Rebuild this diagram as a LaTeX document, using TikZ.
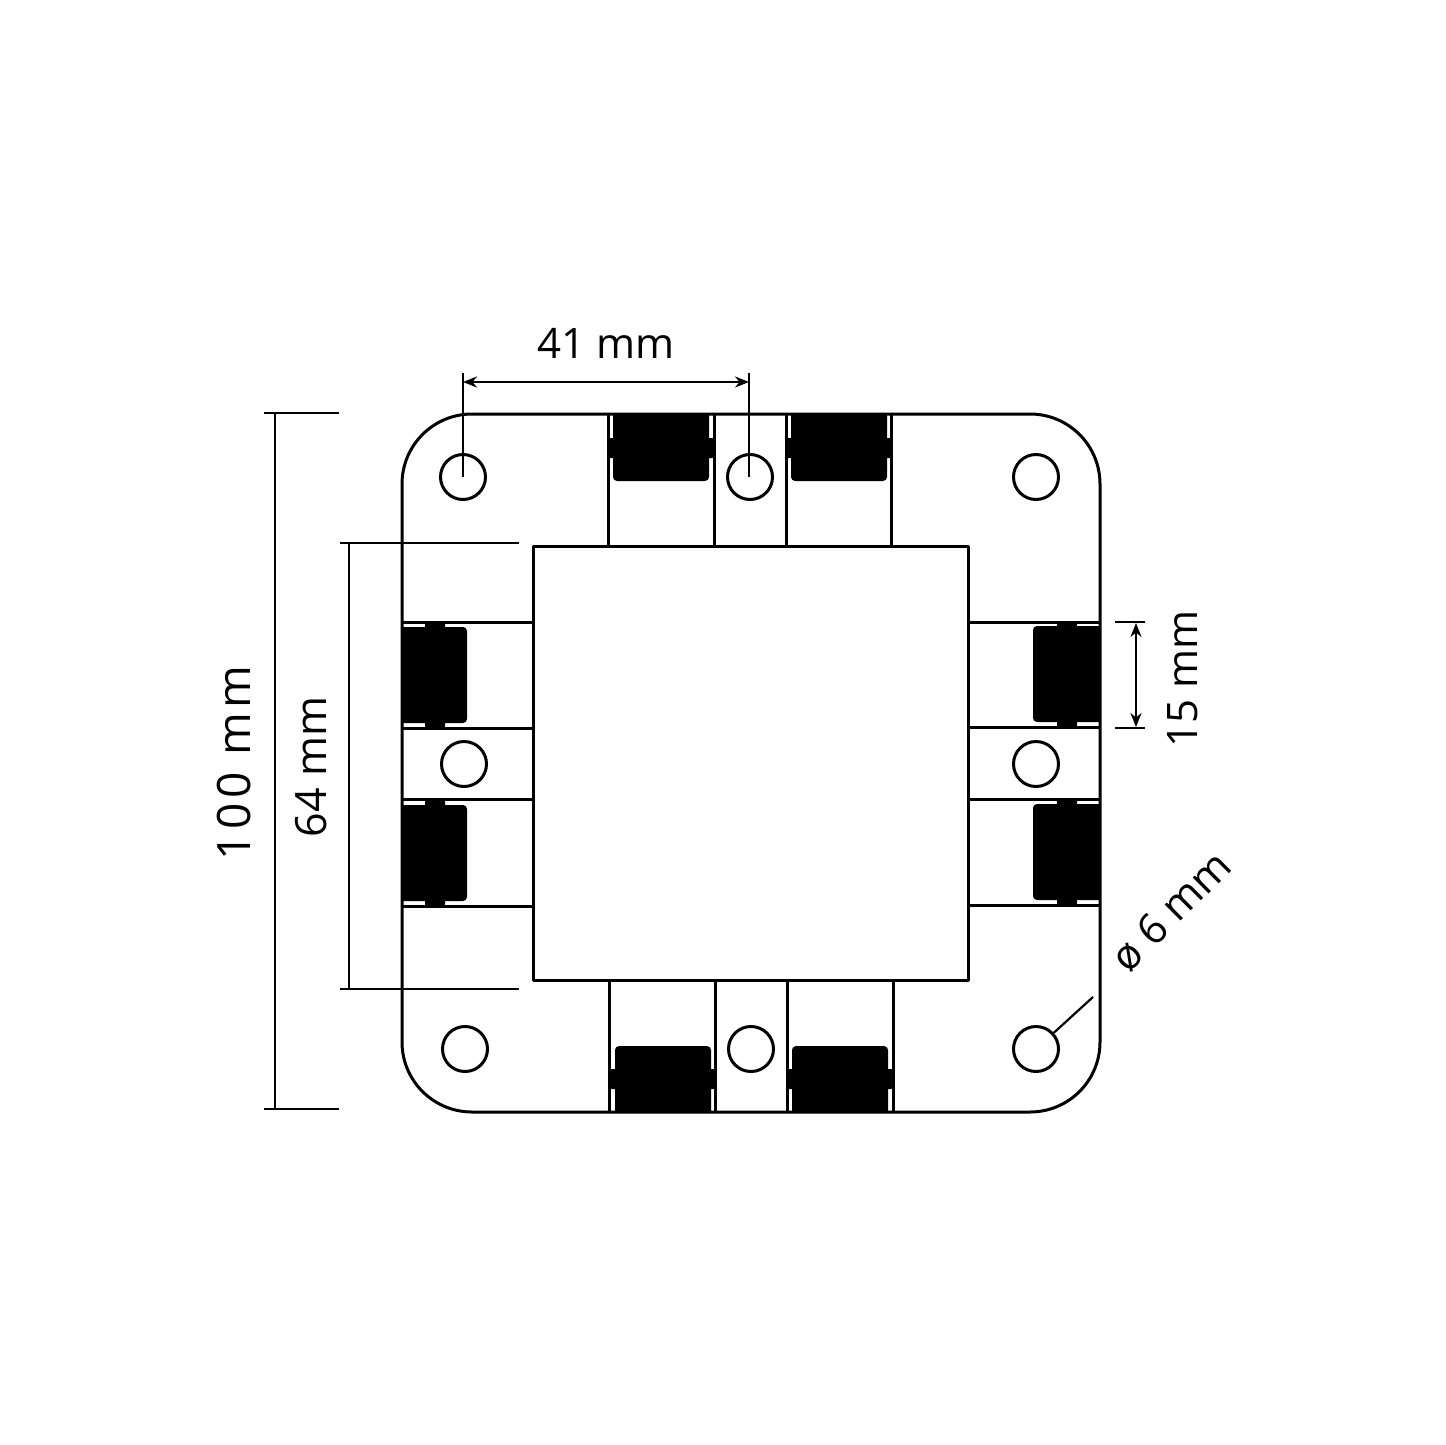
\documentclass[tikz,border=0pt]{standalone}
\usepackage{fontspec}
\setmainfont{Open Sans}
\newfontfamily\widefont[LetterSpace=10]{Open Sans}
\usetikzlibrary{arrows.meta}
\tikzset{
  part/.style={draw=black,line width=3pt,line join=round},
  tabline/.style={draw=black,line width=3pt},
  dimline/.style={draw=black,line width=2.6pt},
  arrowdim/.style={draw=black,line width=2.4pt,{Stealth[length=14pt,width=11pt]}-{Stealth[length=14pt,width=11pt]}},
  leader/.style={draw=black,line width=2.2pt},
  hole/.style={circle,draw=black,line width=3pt,fill=white,minimum size=45pt,inner sep=0pt},
  block/.style={fill=black,rounded corners=4pt},
  nub/.style={fill=black,rounded corners=2pt},
  label/.style={font=\fontsize{42}{42}\selectfont,text=black,inner sep=0pt}
}
\begin{document}
\begin{tikzpicture}[x=1pt,y=-1pt]
\useasboundingbox (0,0) rectangle (1445,1445);
\fill[white] (0,0) rectangle (1445,1445);
% centre square
\draw[part] (533,546) rectangle (968,980);
% tab lines
\foreach \x in {608,714,786,891} \draw[tabline] (\x,414) -- (\x,546);
\foreach \x in {609,715,787,893} \draw[tabline] (\x,980) -- (\x,1112);
\foreach \y in {622,728,799,906} \draw[tabline] (402,\y) -- (533,\y);
\foreach \y in {622,727,799,905} \draw[tabline] (968,\y) -- (1100,\y);
% top blocks
\foreach \x in {613,791}{
  \fill[block] (\x,405) rectangle (\x+96,481);
  \fill[nub] (\x-5,438) rectangle (\x+101,458);
}
% bottom blocks
\foreach \x in {615,792}{
  \fill[block] (\x,1046) rectangle (\x+96,1121);
  \fill[nub] (\x-5,1069) rectangle (\x+101,1089);
}
% left blocks
\foreach \y in {627,805}{
  \fill[block] (393,\y) rectangle (467,\y+96);
  \fill[nub] (425,\y-5) rectangle (445,\y+101);
}
% right blocks
\foreach \y in {626,804}{
  \fill[block] (1033,\y) rectangle (1109,\y+96);
  \fill[nub] (1057,\y-5) rectangle (1077,\y+101);
}
% outer white trim, then the plate edge over the blocks
\fill[white] (380,395) rectangle (1120,413);
\fill[white] (380,1113) rectangle (1120,1130);
\fill[white] (380,600) rectangle (401,920);
\fill[white] (1101,600) rectangle (1118,920);
\draw[part,rounded corners=70pt] (402,414) rectangle (1100,1112);
% holes
\node[hole] (tl) at (463,477) {};
\node[hole] (tm) at (750,477) {};
\node[hole] (tr) at (1036,477) {};
\node[hole] (ml) at (464,764) {};
\node[hole] (mr) at (1036,764) {};
\node[hole] (bl) at (465,1049) {};
\node[hole] (bm) at (751,1049) {};
\node[hole] (br) at (1036,1049) {};
% 41 mm
\coordinate (a41) at (463,373);
\coordinate (b41) at (749,373);
\coordinate (a41i) at (463,382);
\coordinate (b41i) at (749,382);
\draw[dimline] (a41) -- (tl.center);
\draw[dimline] (b41) -- (749,477);
\draw[arrowdim] (a41i) -- (b41i);
\node[label] (t41) at (606,343) {41 mm};
% 100 mm
\coordinate (a100) at (264,413);
\coordinate (b100) at (339,413);
\coordinate (c100) at (264,1109);
\coordinate (d100) at (339,1109);
\draw[dimline] (a100) -- (b100);
\draw[dimline] (c100) -- (d100);
\draw[dimline] (275,413) -- (275,1109);
\node[label,rotate=90,font=\fontsize{46}{46}\selectfont\widefont] (t100) at (234,763) {100 mm};
% 64 mm
\coordinate (a64) at (340,543);
\coordinate (b64) at (519,543);
\coordinate (c64) at (340,989);
\coordinate (d64) at (519,989);
\draw[dimline] (a64) -- (b64);
\draw[dimline] (c64) -- (d64);
\draw[dimline] (349,543) -- (349,989);
\node[label,rotate=90,font=\fontsize{43}{43}\selectfont] (t64) at (311,767) {64 mm};
% 15 mm
\coordinate (a15) at (1115,622);
\coordinate (b15) at (1145,622);
\coordinate (c15) at (1115,728);
\coordinate (d15) at (1145,728);
\draw[dimline] (a15) -- (b15);
\draw[dimline] (c15) -- (d15);
\draw[arrowdim] (1136,623) -- (1136,727);
\node[label,rotate=90] (t15) at (1183,679) {15 mm};
% diameter
\coordinate (dia) at (1093,997);
\draw[leader] (br) -- (dia);
\node[label,rotate=45] (t6) at (1171,911) {ø 6 mm};
\end{tikzpicture}
\end{document}
